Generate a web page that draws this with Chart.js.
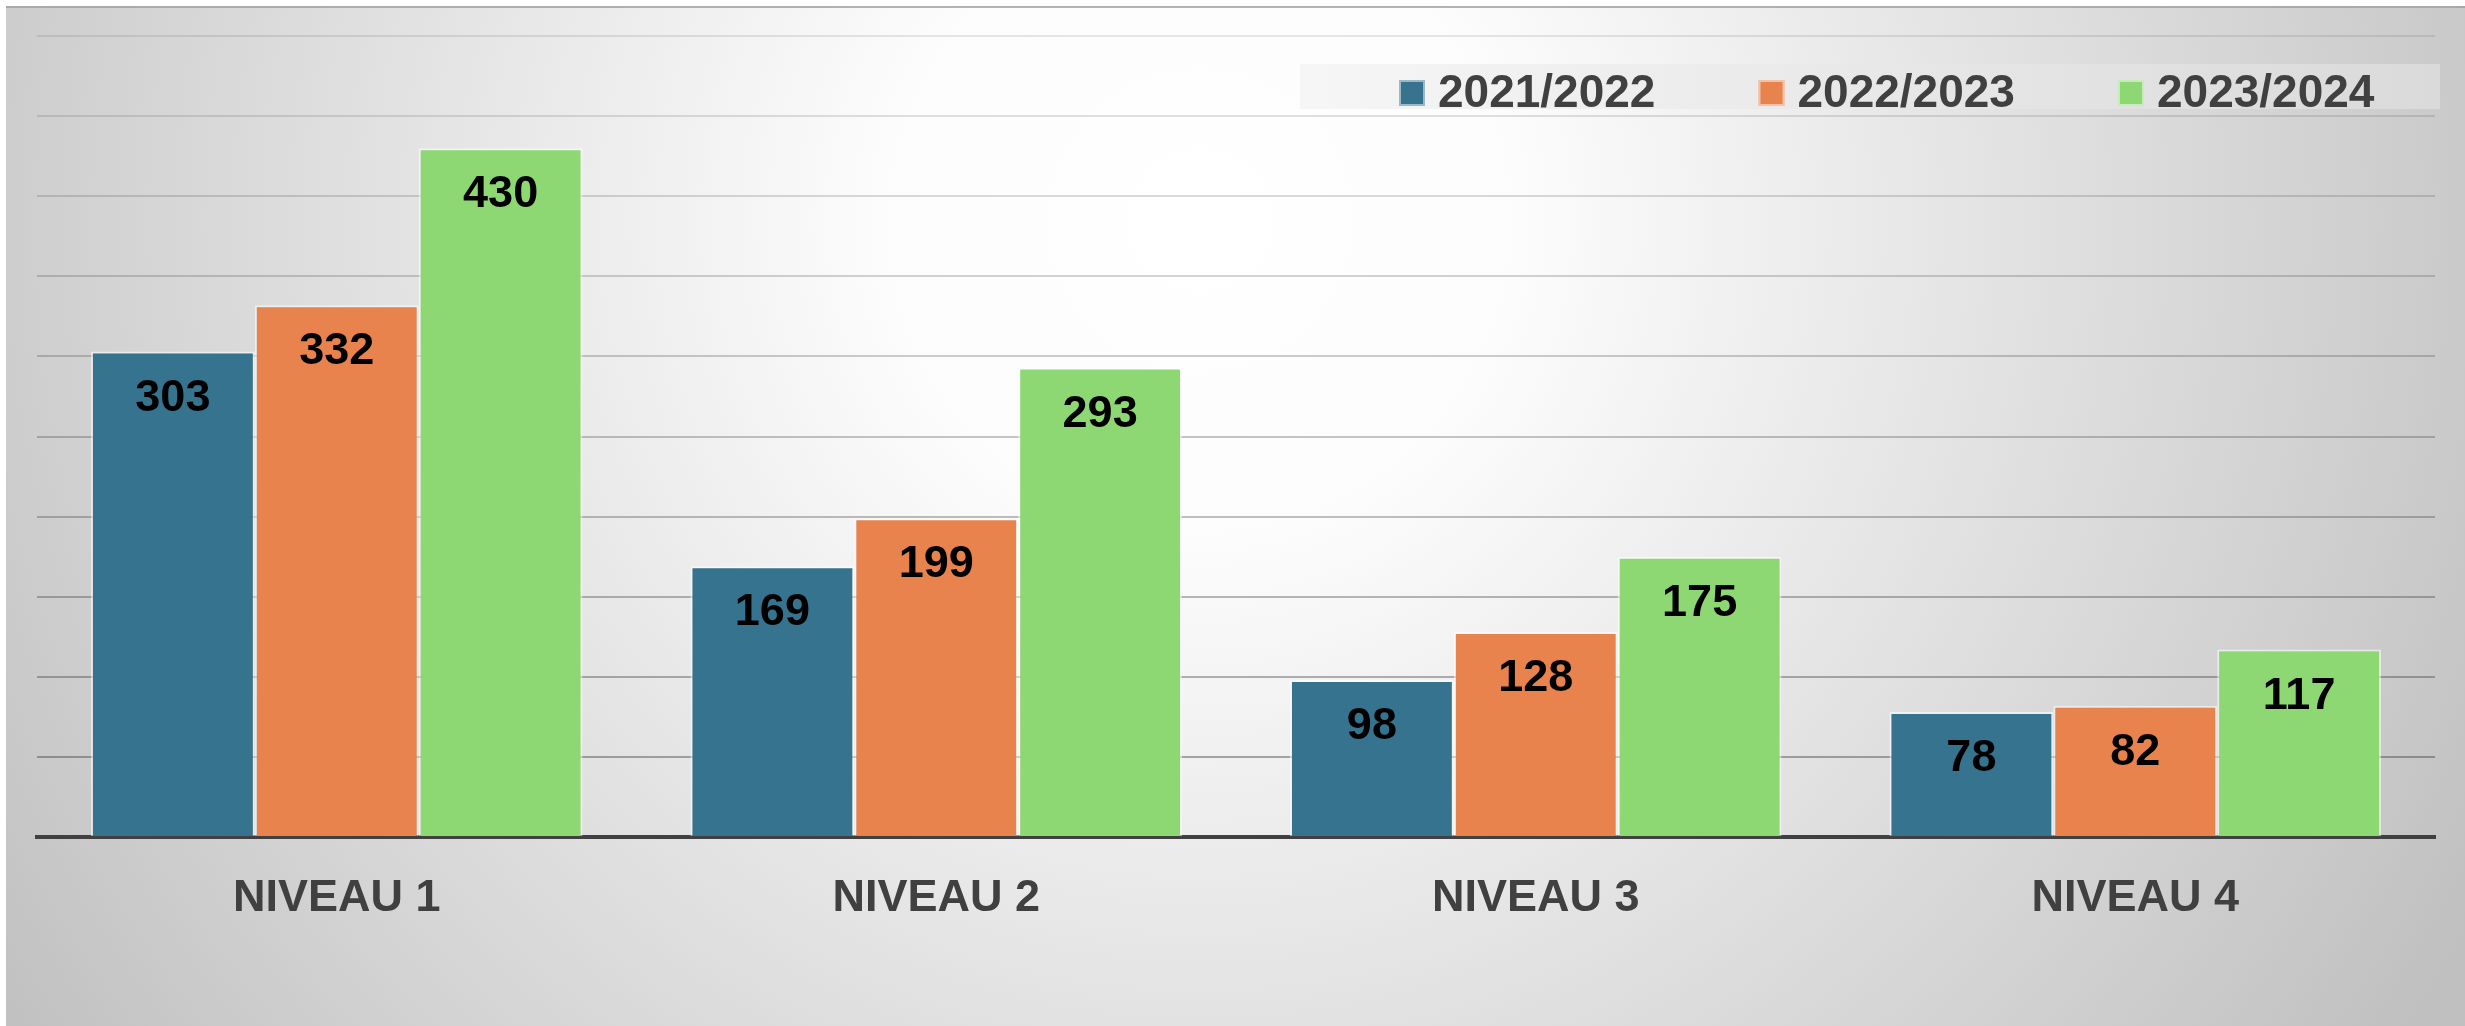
<!DOCTYPE html>
<html><head><meta charset="utf-8">
<script src="https://cdn.jsdelivr.net/npm/chart.js@4"></script>
<style>
html,body{margin:0;padding:0;background:#fff;overflow:hidden;}
canvas{display:block}
</style>
</head><body>
<canvas id="c" width="2465" height="1026"></canvas>
<script>
const categories = ['NIVEAU 1', 'NIVEAU 2', 'NIVEAU 3', 'NIVEAU 4'];
const seriesNames = ['2021/2022', '2022/2023', '2023/2024'];
const values2122 = [303, 169, 98, 78];
const values2223 = [332, 199, 128, 82];
const values2324 = [430, 293, 175, 117];
const yMin = 0, yMax = 500, yStep = 50;
const seriesColors = ['#35738f', '#e8834d', '#8ed873'];

const FONT = '"Liberation Sans", Arial, Helvetica, sans-serif';

const bgPlugin = {
  id: 'bg',
  beforeDraw(chart) {
    const ctx = chart.ctx, w = chart.width, h = chart.height;
    ctx.save();
    ctx.fillStyle = '#ffffff';
    ctx.fillRect(0, 0, w, h);
    const g = ctx.createRadialGradient(1200, 220, 0, 1200, 220, 1450);
    g.addColorStop(0, '#ffffff');
    g.addColorStop(0.22, '#fcfcfc');
    g.addColorStop(1, '#c0c0c0');
    ctx.fillStyle = g;
    ctx.fillRect(6, 6, w - 6, h - 6);
    ctx.fillStyle = 'rgba(160,160,160,0.8)';
    ctx.fillRect(6, 6, w - 6, 2);
    ctx.restore();
  }
};

const labelPlugin = {
  id: 'valueLabels',
  afterDatasetsDraw(chart) {
    const ctx = chart.ctx;
    ctx.save();
    ctx.font = 'bold 45px ' + FONT;
    ctx.fillStyle = '#000000';
    ctx.textAlign = 'center';
    ctx.textBaseline = 'alphabetic';
    chart.data.datasets.forEach((ds, i) => {
      const meta = chart.getDatasetMeta(i);
      meta.data.forEach((el, j) => {
        ctx.fillText(String(ds.data[j]), el.x, el.y + 59);
      });
    });
    ctx.restore();
  }
};

const legendPlugin = {
  id: 'customLegend',
  afterDraw(chart) {
    const ctx = chart.ctx;
    ctx.save();
    const boxL = 1300, boxT = 64, boxR = 2440, boxB = 109;
    const lg = ctx.createLinearGradient(boxL, 0, boxR, 0);
    lg.addColorStop(0, 'rgba(246,246,246,1)');
    lg.addColorStop(1, 'rgba(218,218,218,1)');
    ctx.fillStyle = lg;
    ctx.fillRect(boxL, boxT, boxR - boxL, boxB - boxT);
    ctx.font = 'bold 46px ' + FONT;
    ctx.textBaseline = 'alphabetic';
    ctx.textAlign = 'left';
    let x = 1399;
    chart.data.datasets.forEach((ds) => {
      ctx.fillStyle = ds.backgroundColor;
      ctx.fillRect(x, 80, 26, 26);
      ctx.strokeStyle = 'rgba(255,255,255,0.5)';
      ctx.lineWidth = 2;
      ctx.strokeRect(x + 1, 81, 24, 24);
      ctx.fillStyle = '#404040';
      ctx.fillText(ds.label, x + 39, 107);
      x += 359.5;
    });
    ctx.restore();
  }
};

new Chart(document.getElementById('c'), {
  type: 'bar',
  data: {
    labels: categories,
    datasets: [
      { label: seriesNames[0], data: values2122, backgroundColor: seriesColors[0] },
      { label: seriesNames[1], data: values2223, backgroundColor: seriesColors[1] },
      { label: seriesNames[2], data: values2324, backgroundColor: seriesColors[2] }
    ]
  },
  options: {
    responsive: false,
    animation: false,
    devicePixelRatio: 1,
    layout: { padding: { left: 37, right: 30, top: 36, bottom: 65 } },
    datasets: {
      bar: {
        categoryPercentage: 0.82,
        barPercentage: 1.0,
        borderWidth: 2,
        borderColor: 'rgba(255,255,255,0.55)',
        borderSkipped: 'start'
      }
    },
    plugins: {
      legend: { display: false },
      tooltip: { enabled: false },
      title: { display: false }
    },
    scales: {
      x: {
        z: 1,
        grid: { display: false, drawTicks: false },
        border: { display: true, color: '#404040', width: 4 },
        ticks: {
          color: '#404040',
          padding: 35,
          font: { family: FONT, size: 45, weight: 'bold', lineHeight: 1.2 }
        }
      },
      y: {
        min: yMin,
        max: yMax,
        ticks: { display: false, stepSize: yStep },
        border: { display: false },
        grid: {
          drawTicks: false,
          lineWidth: 2,
          color: (ctx) => {
            const v = ctx.tick ? ctx.tick.value : 0;
            const a = 0.12 + 0.34 * (1 - v / yMax);
            return 'rgba(60,60,60,' + a.toFixed(3) + ')';
          }
        }
      }
    }
  },
  plugins: [bgPlugin, labelPlugin, legendPlugin]
});
</script>
</body></html>
